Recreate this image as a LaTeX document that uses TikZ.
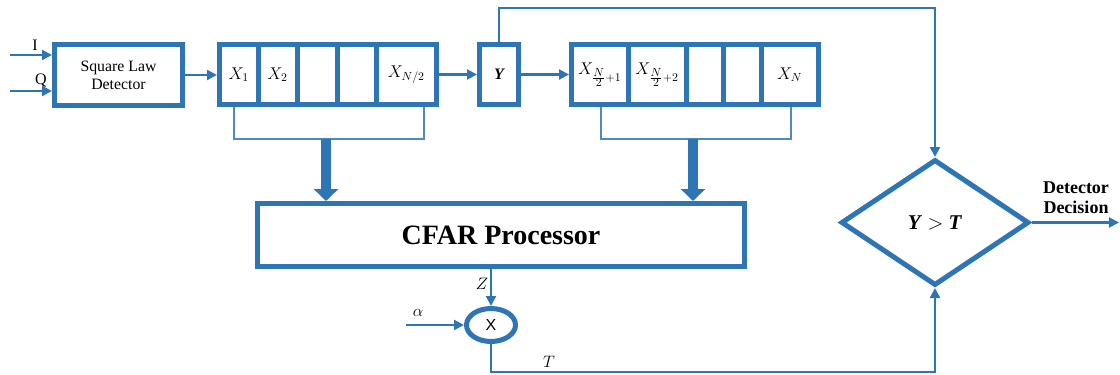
\documentclass[tikz,border=0pt]{standalone}
\usepackage{graphicx}
\usepackage{fontspec}
\setmainfont{Liberation Serif}
\newfontfamily\arialfont{Liberation Sans}
\usetikzlibrary{arrows.meta,shapes.geometric}
\definecolor{cblue}{RGB}{46,117,182}
\newcommand{\cellmath}[1]{\scalebox{1.18}{$#1$}}
\newcommand{\lblmath}[1]{\scalebox{1.15}{$#1$}}
\begin{document}
\begin{tikzpicture}[x=1pt,y=-1pt,
  box/.style={draw=cblue,line width=5pt,inner sep=0pt,anchor=center,fill=white},
  cell/.style={box,minimum height=60pt,font=\fontsize{14.4}{15}\selectfont},
  conn/.style={draw=cblue,line width=2.2pt,-{Triangle[length=10pt,width=10pt]}},
  brace/.style={draw=cblue!85,line width=1.3pt},
  fat/.style={draw=cblue,line width=10pt,-{Triangle[length=12pt,width=24pt]}},
  lbl/.style={inner sep=0pt,font=\fontsize{14.4}{14}\selectfont},
]
\useasboundingbox (0,0) rectangle (1120,375);

% square law detector
\node[box,minimum width=128pt,minimum height=61pt,align=center,
  font=\fontsize{15.8}{18}\selectfont] (sld) at (118.5,75) {Square Law\\Detector};
\coordinate (iin) at (10,55);
\coordinate (qin) at (10,91);
\draw[conn] (iin) -- (iin -| sld.west);
\draw[conn] (qin) -- (qin -| sld.west);
\node[lbl,font=\fontsize{16}{16}\selectfont] (ilab) at (35,45) {I};
\node[lbl,font=\fontsize{16}{16}\selectfont] (qlab) at (41,80) {Q};

% register 1
\node[cell,minimum width=38.5pt] (c1) at (238.75,74.5) {\cellmath{X_1}};
\node[cell,minimum width=39pt]   (c2) at (277.5,74.5) {\cellmath{X_2}};
\node[cell,minimum width=40pt]   (c3) at (317,74.5) {};
\node[cell,minimum width=39pt]   (c4) at (356.5,74.5) {};
\node[cell,minimum width=60.5pt] (c5) at (406.25,74.5) {\cellmath{X_{N/2}}};
\draw[conn] (sld.east) -- (sld.east -| c1.west);

% Y box
\node[cell,minimum width=39pt,font=\fontsize{16}{16}\selectfont\bfseries\itshape] (ybox) at (499,74.5) {Y};
\draw[conn] (c5.east) -- (ybox.west);

% register 2
\node[cell,minimum width=56.5pt] (d1) at (599.75,74.5) {\cellmath{X_{\frac{\scriptstyle N}{\scriptstyle 2}+1}}};
\node[cell,minimum width=58pt]   (d2) at (657,74.5) {\cellmath{X_{\frac{\scriptstyle N}{\scriptstyle 2}+2}}};
\node[cell,minimum width=37pt]   (d3) at (704.5,74.5) {};
\node[cell,minimum width=38pt]   (d4) at (742,74.5) {};
\node[cell,minimum width=57.5pt] (d5) at (789.75,74.5) {\cellmath{X_N}};
\draw[conn] (ybox.east) -- (d1.west);

% brackets
\draw[brace] (234,107) |- (424,139) -- (424,107);
\draw[brace] (601,107) |- (791,139) -- (791,107);

% CFAR processor
\node[box,minimum width=487pt,minimum height=63pt,
  font=\fontsize{28}{28}\selectfont\bfseries] (cfar) at (501,235) {CFAR Processor};
\coordinate (f1) at (326,139);
\coordinate (f2) at (693,139);
\draw[fat] (f1) -- (f1 |- cfar.north);
\draw[fat] (f2) -- (f2 |- cfar.north);

% multiplier
\node[box,ellipse,minimum width=49pt,minimum height=33pt,
  font=\arialfont\fontsize{16}{16}\selectfont] (mul) at (491,325) {X};
\draw[conn] (cfar.south -| mul.north) -- (mul.north);
\node[lbl] (zlab) at (482,284) {\lblmath{Z}};
\coordinate (ain) at (406,325);
\draw[conn] (ain) -- (mul.west);
\node[lbl] (alab) at (418,313) {\lblmath{\alpha}};

% decision diamond
\node[box,diamond,minimum width=188pt,minimum height=126pt,
  font=\fontsize{21}{21}\selectfont\bfseries] (dia) at (935,222.5)
  {\textit{Y} $>$ \textit{T}};
\coordinate (top) at (935,8);
\draw[conn] (ybox.north) |- (top) -- (dia.north);
\coordinate (tc) at (935,372);
\draw[conn] (mul.south) |- (tc) -- (dia.south);
\node[lbl] (tlab) at (549,362) {\lblmath{T}};
\coordinate (out) at (1119,222.5);
\draw[conn] (dia.east) -- (out);
\node[align=center,inner sep=0pt,font=\fontsize{18}{20}\selectfont\bfseries]
  (declab) at (1076,198) {Detector\\Decision};
\end{tikzpicture}
\end{document}
